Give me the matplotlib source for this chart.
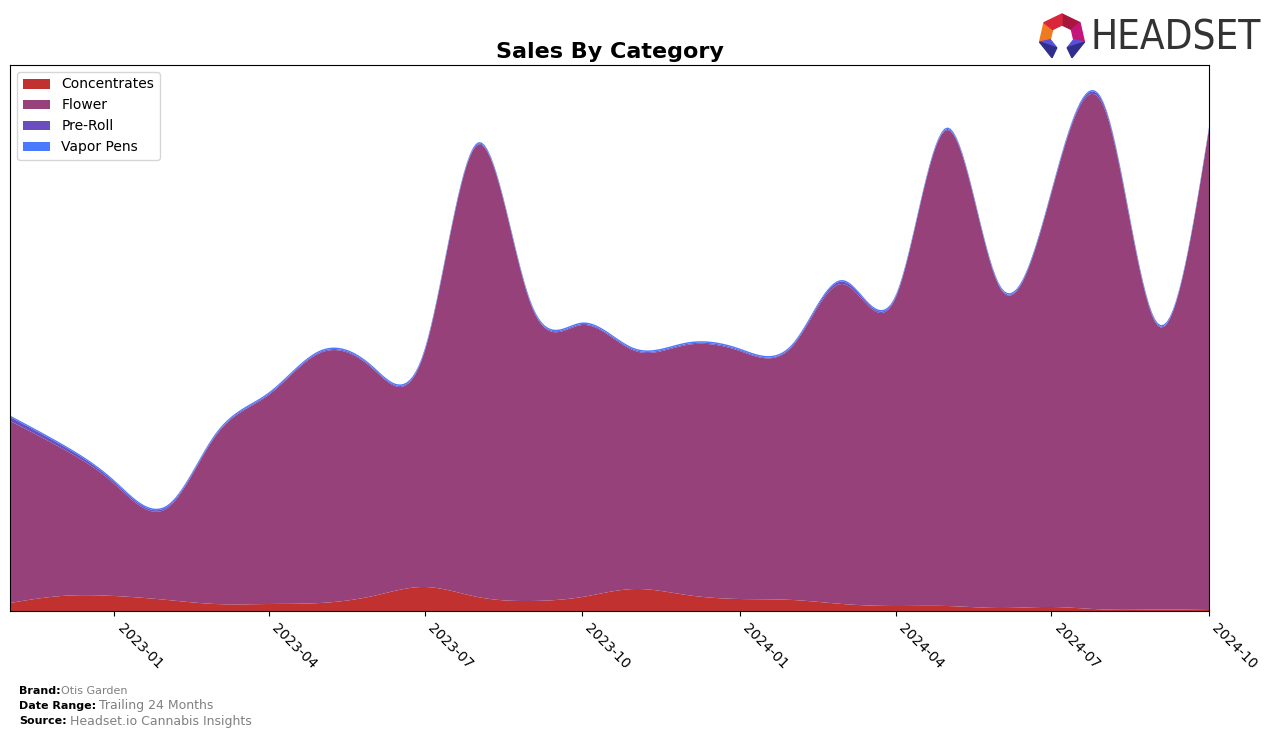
import numpy as np
import pandas as pd
import matplotlib
matplotlib.use("Agg")
import matplotlib.pyplot as plt
import matplotlib.dates as mdates
from matplotlib.patches import Polygon

# monthly sales (arbitrary units)
months = pd.date_range("2022-11-01", periods=24, freq="MS")
categories = ["Concentrates", "Flower", "Pre-Roll", "Vapor Pens"]
concentrates = [8, 15, 15, 11, 7, 7, 8, 15, 24, 14, 10, 14,
                22, 16, 12, 11, 7, 5, 5, 3, 4, 1.5, 1.5, 1]
flower = [182, 148, 112, 92, 168, 209, 250, 227, 235, 452, 297, 272,
          238, 250, 248, 254, 320, 308, 476, 320, 414, 501, 284, 481]
pre_roll = [4, 3, 2, 1.5, 1, 1, 1, 1, 1, 1, 1, 1,
            1, 1, 1, 1, 2.5, 1, 1, 1, 1, 2.5, 1, 0.5]
vapor_pens = [1.5, 1.5, 1.5, 1.5, 1.5, 1.5, 1.5, 1.5, 1.5, 1.5, 1.5, 1.5,
              1.5, 1.5, 1.5, 1.5, 1.5, 1.5, 1.5, 1.5, 1.5, 1.5, 1.5, 1.5]
colors = ["#c0312f", "#96417a", "#6a4dbf", "#4a7bff"]
tick_dates = pd.date_range("2023-01-01", "2024-10-01", freq="3MS")

W, H = 1276, 739


def natural_spline(x, y, xs):
    x = np.asarray(x, float)
    y = np.asarray(y, float)
    n = len(x)
    h = np.diff(x)
    A = np.zeros((n, n))
    b = np.zeros(n)
    A[0, 0] = A[-1, -1] = 1
    for i in range(1, n - 1):
        A[i, i - 1] = h[i - 1]
        A[i, i] = 2 * (h[i - 1] + h[i])
        A[i, i + 1] = h[i]
        b[i] = 6 * ((y[i + 1] - y[i]) / h[i] - (y[i] - y[i - 1]) / h[i - 1])
    M = np.linalg.solve(A, b)
    idx = np.clip(np.searchsorted(x, xs) - 1, 0, n - 2)
    x0, x1 = x[idx], x[idx + 1]
    hh = x1 - x0
    t0 = x1 - xs
    t1 = xs - x0
    return (M[idx] * t0 ** 3 / (6 * hh) + M[idx + 1] * t1 ** 3 / (6 * hh)
            + (y[idx] / hh - M[idx] * hh / 6) * t0
            + (y[idx + 1] / hh - M[idx + 1] * hh / 6) * t1)


def px(x, y):
    return (x / W, 1 - y / H)


xn = mdates.date2num(months)
xs = np.linspace(xn[0], xn[-1], 400)
series = [concentrates, flower, pre_roll, vapor_pens]
smooth = [np.clip(natural_spline(xn, s, xs), 0, None) for s in series]

fig = plt.figure(figsize=(12.76, 7.39), dpi=100)
ax = fig.add_axes([10 / W, 1 - 611 / H, 1199 / W, 546 / H])
ax.stackplot(mdates.num2date(xs), *smooth, labels=categories, colors=colors)
ax.set_xlim(xn[0], xn[-1])
ax.set_ylim(0, 546)
ax.set_yticks([])
ax.set_xticks(mdates.date2num(tick_dates))
ax.set_xticklabels([d.strftime("%Y-%m") for d in tick_dates], rotation=-45,
                   ha="left", fontsize=10)
ax.set_title("Sales By Category", fontsize=16, fontweight="bold", pad=5)
ax.legend(loc="upper left", fontsize=10)

# footer
fig.text(19 / W, 1 - 691 / H, "Brand:", fontsize=8, fontweight="bold", va="center")
fig.text(61 / W, 1 - 691 / H, "Otis Garden", fontsize=8, color="gray", va="center")
fig.text(19 / W, 1 - 706 / H, "Date Range:", fontsize=8, fontweight="bold", va="center")
fig.text(99 / W, 1 - 706 / H, "Trailing 24 Months", fontsize=9, color="gray", va="center")
fig.text(19 / W, 1 - 721 / H, "Source:", fontsize=8, fontweight="bold", va="center")
fig.text(70 / W, 1 - 721 / H, "Headset.io Cannabis Insights", fontsize=9, color="gray", va="center")

# logo text
fig.text(1091 / W, 1 - 38 / H, "HEADSET", fontsize=29, color="#333333",
         va="center", ha="left", fontstretch="condensed", fontweight="medium")

# logo mark: heptagon ring open at the bottom
cx, cy = 1062, 37
r_out, r_in = 23, 12
angles = np.radians(90 - np.arange(8) * 360 / 7)
outer = [(cx + r_out * np.cos(a), cy - r_out * np.sin(a)) for a in angles]
inner = [(cx + r_in * np.cos(a), cy - r_in * np.sin(a)) for a in angles]
seg_colors = ["#a8163e", "#c4157a", None, None, None, "#f07a22", "#d9263a"]
for i, c in enumerate(seg_colors):
    if c is None:
        continue
    quad = [px(*outer[i]), px(*outer[i + 1]), px(*inner[i + 1]), px(*inner[i])]
    fig.patches.append(Polygon(quad, closed=True, color=c, transform=fig.transFigure))
# legs
for i, j in [(2, 3), (5, 4)]:
    top = [px(*outer[i]), px(*inner[i]), px(*inner[j])]
    mid = [px(*outer[i]), px(*inner[j]), px(*outer[j])]
    fig.patches.append(Polygon(top, closed=True, color="#5a50d8", transform=fig.transFigure))
    fig.patches.append(Polygon(mid, closed=True, color="#2e2e8c", transform=fig.transFigure))

fig.savefig("out.png", dpi=100)
